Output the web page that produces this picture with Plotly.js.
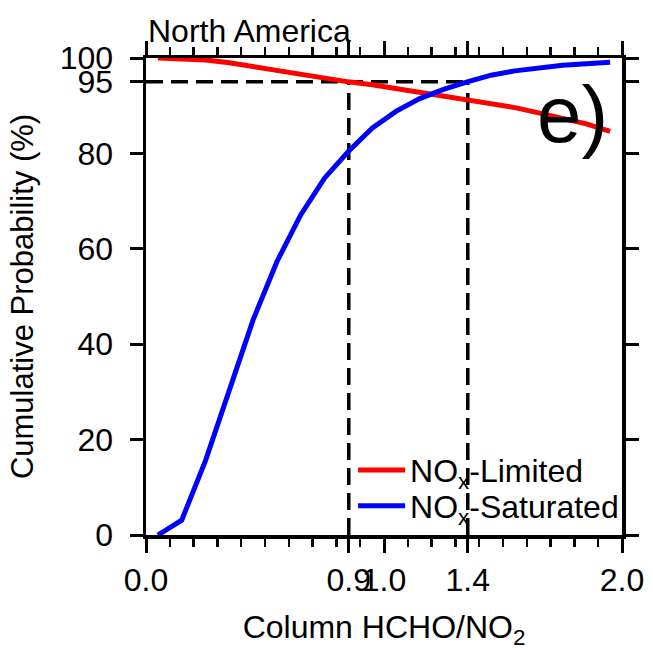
<!DOCTYPE html>
<html>
<head>
<meta charset="utf-8">
<script src="https://cdn.plot.ly/plotly-3.0.1.min.js"></script>
<style>html,body{margin:0;padding:0;background:#fff;}</style>
</head>
<body>
<div id="chart" style="width:653px;height:650px;"></div>
<script>
// Column HCHO/NO2 bin centres
const ratioBins = [0.05, 0.15, 0.25, 0.35, 0.45, 0.55, 0.65, 0.75, 0.85, 0.95,
                   1.05, 1.15, 1.25, 1.35, 1.45, 1.55, 1.65, 1.75, 1.85, 1.95];
// Cumulative probability (%) for each regime
const noxLimited   = [100.0, 99.9, 99.6, 99.0, 98.2, 97.3, 96.6, 95.9, 95.0, 94.4,
                      93.6, 92.9, 92.2, 91.3, 90.5, 89.6, 88.5, 87.4, 86.2, 84.6];
const noxSaturated = [0.0, 3.1, 15.6, 30.4, 45.1, 57.3, 67.1, 74.8, 80.4, 85.3,
                      88.8, 91.5, 93.4, 95.0, 96.4, 97.3, 98.0, 98.5, 98.8, 99.1];

// 95% probability level and the ratios where each curve reaches it
const probLevel = 95;
const limitedAt95 = 0.852;
const saturatedAt95 = 1.352;

// Axis ticks
const xMajorTicks = [0.0, limitedAt95, 1.0, saturatedAt95, 2.0];
const xMajorText = xMajorTicks.map(v => v.toFixed(1));
const xMinorTicks = [0.1, 0.2, 0.3, 0.4, 0.5, 0.6, 0.7, 0.8, 0.9,
                     1.1, 1.2, 1.3, 1.4, 1.5, 1.6, 1.7, 1.8, 1.9];
const yTicks = [0, 20, 40, 60, 80, 95, 100];

const FONT = 'Liberation Sans, Arial, Helvetica, sans-serif';
const TXT = 32;
const dashStyle = {color: '#000', width: 3.5, dash: '17px,8px'};

const traces = [
  {x: [0, saturatedAt95], y: [probLevel, probLevel], mode: 'lines',
   line: dashStyle, showlegend: false, hoverinfo: 'skip'},
  {x: [limitedAt95, limitedAt95], y: [0, probLevel], mode: 'lines',
   line: dashStyle, showlegend: false, hoverinfo: 'skip'},
  {x: [saturatedAt95, saturatedAt95], y: [0, probLevel], mode: 'lines',
   line: dashStyle, showlegend: false, hoverinfo: 'skip'},
  {x: ratioBins, y: noxLimited, mode: 'lines', name: 'NO<sub>x</sub>-Limited',
   legend: 'legend', line: {color: '#ff0000', width: 5}},
  {x: ratioBins, y: noxSaturated, mode: 'lines', name: 'NO<sub>x</sub>-Saturated',
   legend: 'legend2', line: {color: '#0000ff', width: 5}}
];

const legendBase = {
  x: 0.435, xanchor: 'left', yanchor: 'middle',
  bgcolor: 'rgba(0,0,0,0)', borderwidth: 0, itemwidth: 47,
  font: {family: FONT, size: TXT, color: '#000'}
};

const layout = {
  width: 653, height: 650,
  margin: {l: 146, r: 31, t: 58, b: 115, pad: 0},
  paper_bgcolor: '#fff', plot_bgcolor: '#fff',
  font: {family: FONT, size: TXT, color: '#000'},
  showlegend: true,
  legend: Object.assign({}, legendBase, {y: 0.136}),
  legend2: Object.assign({}, legendBase, {y: 0.061}),
  xaxis: {
    range: [0, 2], tickmode: 'array', tickvals: xMajorTicks, ticktext: xMajorText,
    tickangle: 0, ticks: 'outside', ticklen: 14, tickwidth: 3, tickcolor: '#000',
    showline: true, linewidth: 3.5, linecolor: '#000', mirror: 'ticks',
    showgrid: false, zeroline: false,
    minor: {tickmode: 'array', tickvals: xMinorTicks, ticks: 'outside',
            ticklen: 8, tickwidth: 2.5, tickcolor: '#000', showgrid: false},
    tickfont: {family: FONT, size: TXT, color: '#000'},
    title: {text: 'Column HCHO/NO<sub>2</sub>', standoff: 22,
            font: {family: FONT, size: TXT, color: '#000'}}
  },
  yaxis: {
    range: [0, 100], tickmode: 'array', tickvals: yTicks,
    ticks: 'outside', ticklen: 13, tickwidth: 3, tickcolor: '#000',
    showline: true, linewidth: 3.5, linecolor: '#000', mirror: 'ticks',
    showgrid: false, zeroline: false, ticklabelstandoff: 10,
    tickfont: {family: FONT, size: TXT, color: '#000'},
    title: {text: 'Cumulative Probability (%)', standoff: 18,
            font: {family: FONT, size: 31, color: '#000'}}
  },
  annotations: [
    {text: 'North America', xref: 'paper', yref: 'paper', x: 0, y: 1,
     xanchor: 'left', yanchor: 'bottom', showarrow: false, yshift: 7,
     font: {family: FONT, size: TXT, color: '#000'}},
    {text: 'e)', xref: 'paper', yref: 'paper', x: 0.975, y: 0.882,
     xanchor: 'right', yanchor: 'middle', showarrow: false,
     font: {family: FONT, size: 80, color: '#000'}}
  ]
};

Plotly.newPlot('chart', traces, layout, {staticPlot: true, displayModeBar: false});
</script>
</body>
</html>
